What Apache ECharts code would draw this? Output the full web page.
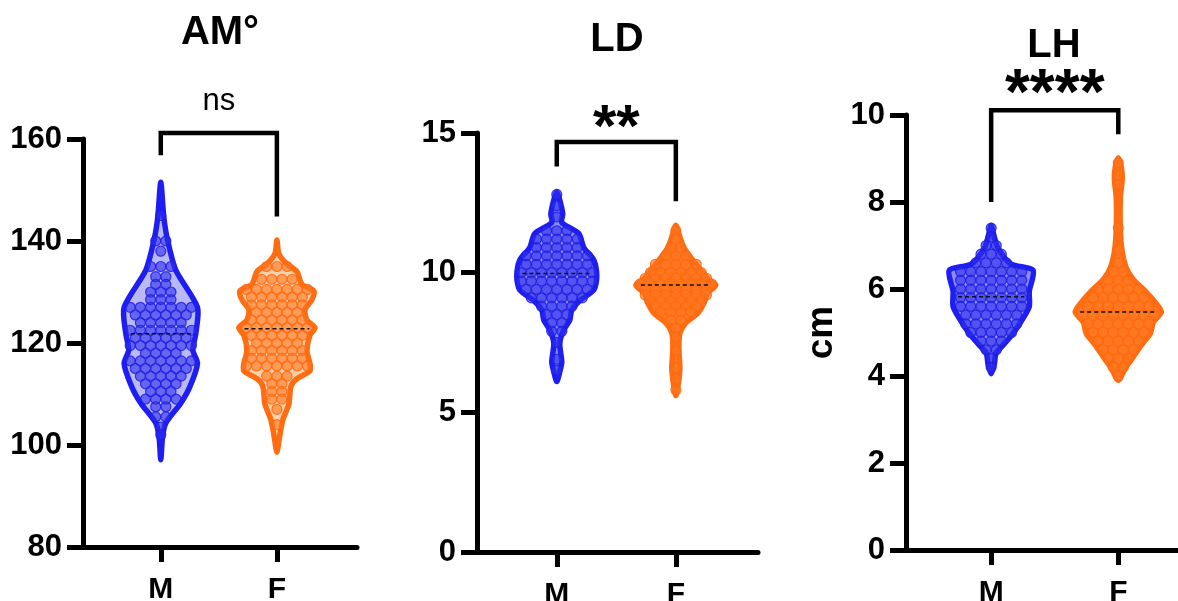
<!DOCTYPE html>
<html>
<head>
<meta charset="utf-8">
<script src="https://cdn.jsdelivr.net/npm/echarts@6/dist/echarts.min.js"></script>
<style>
html, body { margin: 0; padding: 0; background: #fff; }
#main { width: 1178px; height: 601px; }
</style>
</head>
<body>
<div id="main"></div>
<script>
var chart = echarts.init(document.getElementById('main'));

var groups = ['M', 'F'];
var titles = ['AM°', 'LD', 'LH'];
var sigLabels = ['ns', '**', '****'];

// violin outlines: [value, half width in category units]
var amMaleOutline = [[151.5,0],[144.7,0.026],[140.2,0.058],[134.3,0.129],[127,0.316],[121.9,0.302],[118.6,0.276],[116,0.316],[111.4,0.25],[108.2,0.172],[104.3,0.043],[101.6,0.015],[97.1,0]];
var amFemaleOutline = [[140.2,0],[137.5,0.017],[135.5,0.086],[134,0.172],[131.5,0.216],[130.2,0.319],[128.5,0.302],[126.5,0.241],[124.5,0.259],[123,0.328],[121.5,0.284],[118.5,0.259],[116,0.284],[114.5,0.284],[113,0.172],[111.5,0.121],[108,0.103],[105,0.052],[102,0.026],[98.6,0]];
var ldMaleOutline = [[12.9,0],[12.6,0.025],[12.1,0.05],[11.8,0.042],[11.4,0.185],[10.9,0.227],[10.45,0.311],[9.85,0.336],[9.38,0.311],[9.0,0.193],[8.66,0.126],[8.3,0.109],[7.95,0.059],[7.48,0.025],[6.8,0.042],[6.45,0.025],[6.1,0]];
var ldFemaleOutline = [[11.7,0],[11.4,0.025],[10.9,0.067],[10.45,0.143],[10.1,0.21],[9.74,0.277],[9.56,0.336],[9.27,0.269],[8.9,0.235],[8.55,0.185],[8.2,0.084],[7.84,0.034],[7.3,0.025],[6.6,0.034],[6.16,0.025],[5.6,0]];
var lhMaleOutline = [[7.46,0],[7.2,0.024],[6.93,0.055],[6.57,0.157],[6.43,0.33],[5.95,0.3],[5.6,0.3],[5.33,0.252],[4.98,0.173],[4.71,0.094],[4.53,0.039],[4.26,0.024],[4.05,0]];
var lhFemaleOutline = [[9.02,0],[8.8,0.024],[8.53,0.031],[8.09,0.016],[7.38,0.016],[6.85,0.031],[6.48,0.063],[6.22,0.118],[5.95,0.213],[5.69,0.291],[5.47,0.339],[5.24,0.276],[4.98,0.252],[4.71,0.181],[4.44,0.118],[4.18,0.055],[3.9,0]];

// individual points, grouped as [value, how many]
var amMaleDots = [[145,1],[140,2],[138,1],[135,3],[133,2],[131.5,2],[130,3],[128.5,3],[127,7],[125.5,6],[124,5],[122.5,7],[121,6],[119.5,7],[118,4],[116.5,7],[115,6],[113.5,5],[112,4],[110.5,3],[109,4],[107.5,2],[105.5,2],[103.5,1],[102,1]];
var amFemaleDots = [[135,3],[132.5,4],[130.5,7],[129,6],[127.5,6],[126,5],[124.5,6],[123,7],[121.5,6],[120,5],[118.5,6],[117,6],[115.5,7],[113.5,3],[112,2],[110.5,2],[109,2],[107,1],[104,1]];
var ldMaleDots = [[12.8,1],[12.4,1],[12.0,1],[11.5,3],[11.2,5],[10.9,5],[10.6,7],[10.3,7],[10.0,8],[9.7,8],[9.4,7],[9.1,6],[8.8,4],[8.5,3],[8.2,2],[7.9,2],[7.5,1],[6.9,1],[6.5,1]];
var ldFemaleDots = [[11.5,1],[11.2,1],[10.9,2],[10.6,3],[10.3,5],[10.0,6],[9.8,7],[9.6,8],[9.4,7],[9.2,7],[9.0,6],[8.8,5],[8.6,4],[8.3,2],[8.0,1],[7.7,1],[7.2,1],[6.6,1],[6.2,1],[5.8,1]];
var lhMaleDots = [[7.4,1],[7.2,1],[7.0,2],[6.8,3],[6.6,4],[6.4,7],[6.2,7],[6.0,7],[5.8,7],[5.6,7],[5.4,6],[5.2,6],[5.0,5],[4.8,3],[4.6,2],[4.4,1],[4.2,1]];
var lhFemaleDots = [[8.9,1],[8.6,1],[8.4,1],[7.4,1],[6.9,1],[6.6,1],[6.4,2],[6.2,3],[6.0,5],[5.8,6],[5.6,7],[5.4,8],[5.2,7],[5.0,6],[4.8,5],[4.6,4],[4.4,3],[4.2,2],[4.0,1]];

var amMedians = [121.8, 122.8];
var ldMedians = [9.97, 9.56];
var lhMedians = [5.82, 5.47];

// brackets: [top, left leg end, right leg end]
var amBracket = [161.2, 156.8, 144.8];
var ldBracket = [14.68, 13.8, 12.56];
var lhBracket = [10.11, 8.0, 9.56];

var FONT = '"Liberation Sans", Arial, sans-serif';
var BLUE = '#1e1ef2';
var ORANGE = '#ff6d12';

var panels = [
  { outlines: [amMaleOutline, amFemaleOutline], dots: [amMaleDots, amFemaleDots], medians: amMedians, bracket: amBracket,
    fills: ['#b9b9f6', '#fdd3ad'], min: 80, max: 160, interval: 20, sigSize: 31, sigWeight: 'normal', sigGap: 31,
    grid: { left: 83, top: 139, width: 274, height: 408 } },
  { outlines: [ldMaleOutline, ldFemaleOutline], dots: [ldMaleDots, ldFemaleDots], medians: ldMedians, bracket: ldBracket,
    fills: ['#8c8cf4', '#ff7a22'], min: 0, max: 15, interval: 5, sigSize: 60, sigWeight: 'bold', sigGap: 12,
    grid: { left: 477, top: 133, width: 281, height: 419 } },
  { outlines: [lhMaleOutline, lhFemaleOutline], dots: [lhMaleDots, lhFemaleDots], medians: lhMedians, bracket: lhBracket,
    fills: ['#8c8cf4', '#ff7a22'], min: 0, max: 10, interval: 2, sigSize: 64, sigWeight: 'bold', sigGap: 14,
    grid: { left: 906, top: 115, width: 300, height: 435 }, name: 'cm' }
];
var titlePos = [[220, 33], [617, 40], [1054, 46]];

function halfWidthAt(outline, v) {
  for (var k = 0; k < outline.length - 1; k++) {
    var a = outline[k], b = outline[k + 1];
    if (v <= a[0] && v >= b[0]) {
      var t = (a[0] - v) / (a[0] - b[0]);
      return a[1] + (b[1] - a[1]) * t;
    }
  }
  return 0;
}

var grids = [], xAxes = [], yAxes = [], series = [], graphics = [];

panels.forEach(function (p, i) {
  grids.push(Object.assign({ outerBoundsMode: 'none', containLabel: false }, p.grid));

  xAxes.push({
    gridIndex: i, type: 'value', min: 0.33, max: 2.69,
    splitLine: { show: false },
    axisLine: { show: true, onZero: false, lineStyle: { color: '#000', width: 5 } },
    axisTick: { show: true, customValues: [1, 2], length: 15, lineStyle: { color: '#000', width: 5 } },
    axisLabel: {
      customValues: [1, 2], margin: 28, color: '#000', fontSize: 30, fontWeight: 'bold', fontFamily: FONT,
      formatter: function (v) { return groups[Math.round(v) - 1]; }
    }
  });

  yAxes.push({
    gridIndex: i, type: 'value', min: p.min, max: p.max, interval: p.interval,
    splitLine: { show: false },
    axisLine: { show: true, onZero: false, lineStyle: { color: '#000', width: 5 } },
    axisTick: { show: true, length: 16, lineStyle: { color: '#000', width: 5 } },
    axisLabel: { margin: 21, color: '#000', fontSize: 31, fontWeight: 'bold', fontFamily: FONT },
    name: p.name || '', nameLocation: 'middle', nameGap: 66,
    nameTextStyle: { color: '#000', fontSize: 37, fontWeight: 'bold', fontFamily: FONT }
  });

  // violin bodies
  series.push({
    type: 'custom', xAxisIndex: i, yAxisIndex: i, z: 2, clip: false,
    data: [[1, p.medians[0]], [2, p.medians[1]]],
    renderItem: function (params, api) {
      var line = p.outlines[params.dataIndex];
      var xc = api.value(0);
      var left = line.map(function (q) { return api.coord([xc - q[1], q[0]]); });
      var right = line.slice(1, -1).reverse().map(function (q) { return api.coord([xc + q[1], q[0]]); });
      return {
        type: 'polygon',
        shape: { points: left.concat(right), smooth: 0.25 },
        style: { fill: p.fills[params.dataIndex], stroke: params.dataIndex ? ORANGE : BLUE, lineWidth: 5.5, lineJoin: 'round' }
      };
    }
  });

  // points, spread sideways within each value row
  var dotData = [];
  p.dots.forEach(function (rows, g) {
    rows.forEach(function (r) {
      for (var k = 0; k < r[1]; k++) dotData.push([g + 1, r[0], k, r[1]]);
    });
  });
  series.push({
    type: 'custom', xAxisIndex: i, yAxisIndex: i, z: 3, clip: false,
    data: dotData,
    renderItem: function (params, api) {
      var c = api.coord([api.value(0), api.value(1)]);
      var off = (api.value(2) - (api.value(3) - 1) / 2) * 10.2;
      var isF = api.value(0) === 2;
      return {
        type: 'circle',
        shape: { cx: c[0] + off, cy: c[1], r: 5 },
        style: {
          fill: isF ? 'rgba(255,118,30,0.6)' : 'rgba(45,45,238,0.6)',
          stroke: isF ? 'rgba(255,105,15,0.85)' : 'rgba(30,30,225,0.85)',
          lineWidth: 1.2
        }
      };
    }
  });

  // medians
  series.push({
    type: 'custom', xAxisIndex: i, yAxisIndex: i, z: 4, clip: false,
    data: [[1, p.medians[0]], [2, p.medians[1]]],
    renderItem: function (params, api) {
      var hw = halfWidthAt(p.outlines[params.dataIndex], api.value(1));
      var a = api.coord([api.value(0) - hw, api.value(1)]);
      var b = api.coord([api.value(0) + hw, api.value(1)]);
      return {
        type: 'line',
        shape: { x1: a[0] + 5, y1: a[1], x2: b[0] - 5, y2: b[1] },
        style: { stroke: '#111', lineWidth: 1.5, lineDash: [4, 3] }
      };
    }
  });

  // significance bracket
  series.push({
    type: 'custom', xAxisIndex: i, yAxisIndex: i, z: 5, clip: false,
    data: [[1, 2].concat(p.bracket)],
    renderItem: function (params, api) {
      var a = api.coord([api.value(0), api.value(3)]);
      var b = api.coord([api.value(0), api.value(2)]);
      var c = api.coord([api.value(1), api.value(2)]);
      var d = api.coord([api.value(1), api.value(4)]);
      return {
        type: 'group',
        children: [
          { type: 'polyline', shape: { points: [a, b, c, d] }, style: { stroke: '#000', lineWidth: 4.5, fill: null, lineJoin: 'miter' } },
          { type: 'text', style: { text: sigLabels[i], x: (b[0] + c[0]) / 2, y: b[1] - p.sigGap, align: 'center', verticalAlign: 'middle',
            fontSize: p.sigSize, fontWeight: p.sigWeight, fontFamily: FONT, fill: '#000' } }
        ]
      };
    }
  });

  graphics.push({
    type: 'text', x: titlePos[i][0], y: titlePos[i][1],
    style: { text: titles[i], align: 'center', verticalAlign: 'middle', fontSize: 40, fontWeight: 'bold', fontFamily: FONT, fill: '#000' }
  });
});

chart.setOption({
  backgroundColor: '#fff',
  animation: false,
  grid: grids,
  xAxis: xAxes,
  yAxis: yAxes,
  graphic: graphics,
  series: series
});
</script>
</body>
</html>
